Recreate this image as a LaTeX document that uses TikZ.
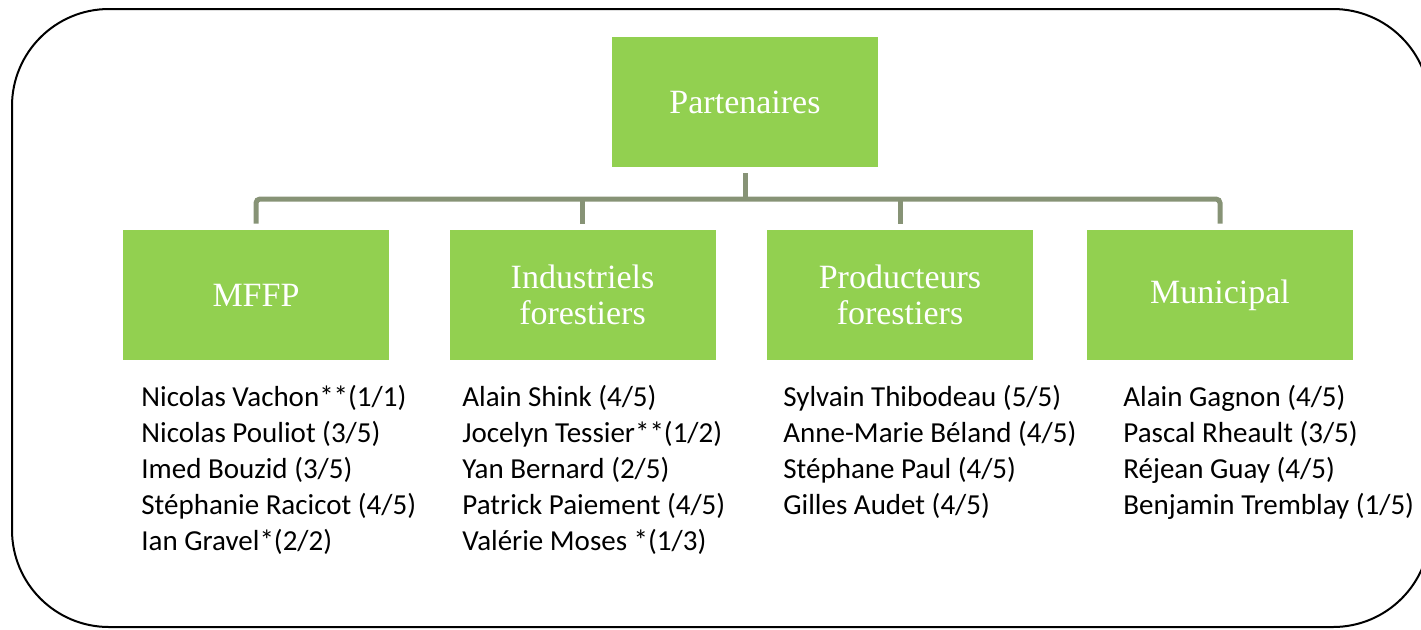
\documentclass[tikz,border=0pt]{standalone}
\usepackage{fontspec}
\setmainfont{Carlito}
\newfontfamily\boxfont{Liberation Serif}
\definecolor{boxgreen}{HTML}{92D050}
\definecolor{linkgrey}{RGB}{135,147,118}

\begin{document}
\begin{tikzpicture}[x=0.5pt, y=-0.5pt,
    boxnode/.style={fill=boxgreen, text=white, minimum width=133pt, minimum height=65pt,
      inner sep=0pt, align=center, font=\boxfont\fontsize{17}{18}\selectfont},
    namelist/.style={anchor=north west, inner sep=0pt, align=left,
      font=\fontsize{14.5}{18}\selectfont},
    link/.style={draw=linkgrey, line width=2.5pt}]
    \useasboundingbox (0, 0) rectangle (1421, 629);
    \clip (0, 0) rectangle (1421, 629);
    % outer frame
    \draw[line width=1pt, rounded corners=48.5pt] (12, 9) rectangle (1430, 627);

    \node[boxnode] (part) at (745, 102) {Partenaires};
    \node[boxnode] (mffp) at (256, 295) {MFFP};
    \node[boxnode] (indus) at (582.5, 295) {Industriels\\forestiers};
    \node[boxnode] (prod) at (900, 295) {Producteurs\\forestiers};
    \node[boxnode] (muni) at (1220, 295) {Municipal};

    \coordinate (bus) at (745, 199);
    \draw[link, shorten <=3pt] (part.south) -- (bus);
    \draw[link, rounded corners=2pt, shorten <=3pt, shorten >=3pt] (mffp.north) |- (bus) -| (muni.north);
    \foreach \c in {indus, prod}
      \draw[link, shorten >=3pt] (bus -| \c.north) -- (\c.north);

    \node[namelist] (lmffp) at (141, 385) {Nicolas Vachon**(1/1)\\Nicolas Pouliot (3/5)\\Imed Bouzid (3/5)\\St\'ephanie Racicot (4/5)\\Ian Gravel*(2/2)};
    \node[namelist] (lindus) at (462, 385) {Alain Shink (4/5)\\Jocelyn Tessier**(1/2)\\Yan Bernard (2/5)\\Patrick Paiement (4/5)\\Val\'erie Moses *(1/3)};
    \node[namelist] (lprod) at (783, 385) {Sylvain Thibodeau (5/5)\\Anne-Marie B\'eland (4/5)\\St\'ephane Paul (4/5)\\Gilles Audet (4/5)};
    \node[namelist] (lmuni) at (1123, 385) {Alain Gagnon (4/5)\\Pascal Rheault (3/5)\\R\'ejean Guay (4/5)\\Benjamin Tremblay (1/5)};
  \end{tikzpicture}
\end{document}
